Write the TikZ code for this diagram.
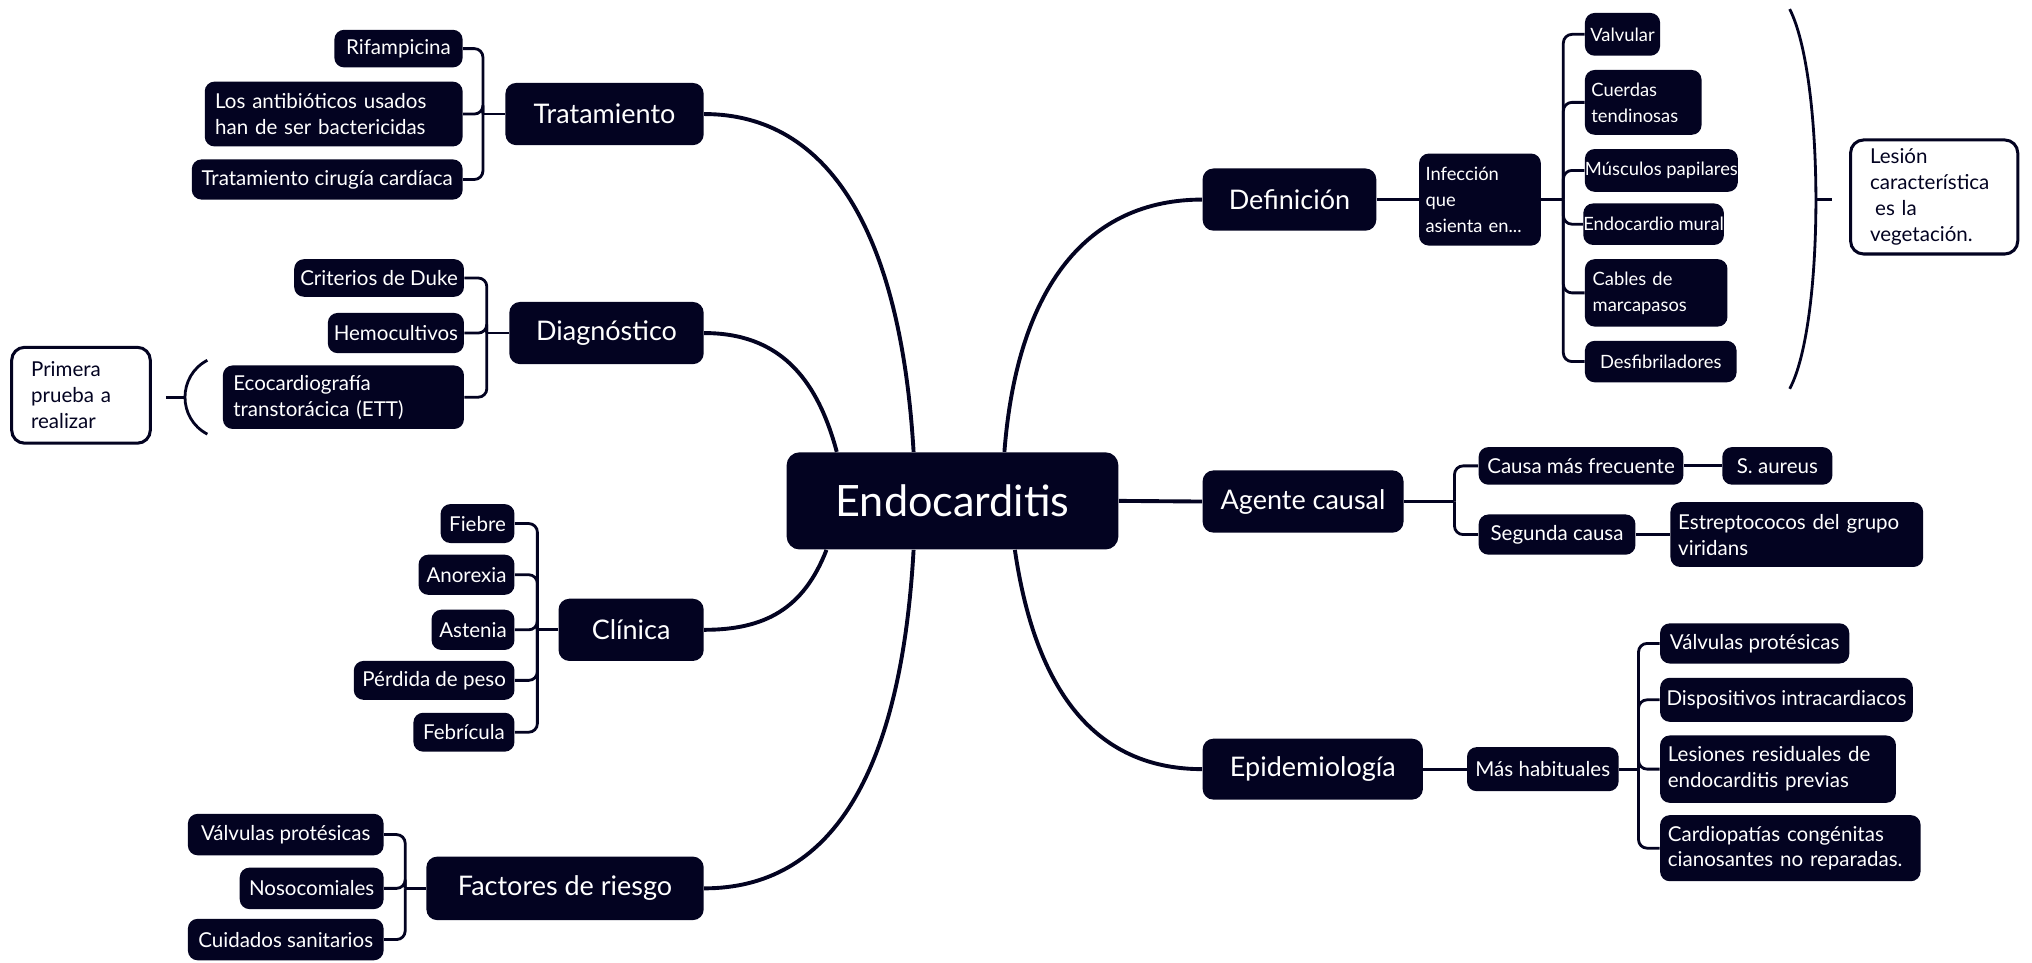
\documentclass[tikz,border=0pt]{standalone}
\usepackage{fontspec}
\setmainfont{Lato}
\usetikzlibrary{calc}
\definecolor{navy}{RGB}{3,3,33}
\begin{document}
\begin{tikzpicture}[x=0.6pt,y=-0.6pt,
  nd/.style={fill=navy, text=white, rounded corners=4.5pt, inner sep=0pt, align=center},
  leaf/.style={nd, font=\fontsize{9.5}{12}\selectfont},
  dleaf/.style={nd, font=\fontsize{8.5}{12}\selectfont},
  mainn/.style={nd, font=\fontsize{12.5}{15}\selectfont, rounded corners=5pt},
  sz/.style 2 args={minimum width=#1*0.6pt, minimum height=#2*0.6pt},
  ml/.style={align=left, text width=#1*0.6pt},
  conn/.style={draw=navy, line width=1.3pt},
  br/.style={conn, rounded corners=4pt},
  curve/.style={draw=navy, line width=1.8pt},
  wbox/.style={draw=navy, line width=1.4pt, fill=white, text=navy, rounded corners=6pt, inner sep=0pt, font=\fontsize{9.5}{12}\selectfont}
]
\useasboundingbox (0,0) rectangle (1568,743);

% central
\node[nd, sz={256}{75}, font=\fontsize{20}{24}\selectfont, rounded corners=6pt] (cen) at (735,386.5) {Endocarditis};

% main nodes
\node[mainn, sz={153}{48}] (trat) at (466.5,88) {Tratamiento};
\node[mainn, sz={150}{48}] (diag) at (468,257) {Diagnóstico};
\node[mainn, sz={112}{48}] (clin) at (487,486) {Clínica};
\node[mainn, sz={214}{49}] (fact) at (436,685.5) {Factores de riesgo};
\node[mainn, sz={134}{48}] (defi) at (995,154) {Definición};
\node[mainn, sz={155}{48}] (agen) at (1005.5,387) {Agente causal};
\node[mainn, sz={170}{47}] (epid) at (1013,593.5) {Epidemiología};

% curves from centre
\draw[curve] ($(cen.north west)!0.383!(cen.north east)$) .. controls (695,180) and (640,88) .. (trat.east);
\draw[curve] ($(cen.north west)!0.152!(cen.north east)$) .. controls (630,290) and (600,257) .. (diag.east);
\draw[curve] ($(cen.south west)!0.121!(cen.south east)$) .. controls (620,470) and (590,486) .. (clin.east);
\draw[curve] ($(cen.south west)!0.383!(cen.south east)$) .. controls (695,600) and (640,685.5) .. (fact.east);
\draw[curve] ($(cen.north west)!0.656!(cen.north east)$) .. controls (785,220) and (840,154) .. (defi.west);
\draw[curve] ($(cen.south west)!0.6875!(cen.south east)$) .. controls (800,540) and (850,593.5) .. (epid.west);
\draw[curve] (cen.east) -- (agen.west);

% Tratamiento
\node[leaf, sz={99}{29}] (rif) at (307.5,37.5) {Rifampicina};
\node[leaf, sz={199}{50}, ml=183] (anti) at (257.5,88) {Los antibióticos usados\\han de ser bactericidas};
\node[leaf, sz={209}{31}] (ciru) at (252.5,138.5) {Tratamiento cirugía cardíaca};
\coordinate (tb) at ($(trat.west)+(-17,0)$);
\draw[conn] (trat.west) -- (tb);
\draw[br] (tb) |- (rif.east);
\draw[br] (tb) |- (anti.east);
\draw[br] (tb) |- (ciru.east);

% Diagnostico
\node[leaf, sz={131}{29}] (duke) at (292.5,214.5) {Criterios de Duke};
\node[leaf, sz={105}{31}] (hemo) at (305.5,257) {Hemocultivos};
\node[leaf, sz={186}{49}, ml=170] (eco) at (265,306.5) {Ecocardiografía\\transtorácica (ETT)};
\coordinate (db) at ($(diag.west)+(-17,0)$);
\draw[conn] (diag.west) -- (db);
\draw[br] (db) |- (duke.east);
\draw[br] (db) |- (hemo.east);
\draw[br] (db) |- (eco.east);
\node[wbox, sz={107}{74}, ml=77] (prim) at (62.5,305) {Primera\\prueba a\\realizar};
\coordinate (p1) at (160,278);
\coordinate (p2) at (160,335);
\coordinate (p3) at (143,306.5);
\coordinate (p4) at (128,306.5);
\draw[conn] (p1) .. controls (137,290) and (137,323) .. (p2);
\draw[conn] (p4) -- (p3);

% Clinica
\node[leaf, sz={57}{30}] (fieb) at (368.5,404) {Fiebre};
\node[leaf, sz={74}{31}] (anor) at (360,443.5) {Anorexia};
\node[leaf, sz={64}{31}] (aste) at (365,486) {Astenia};
\node[leaf, sz={124}{30}] (perd) at (335,525) {Pérdida de peso};
\node[leaf, sz={78}{30}] (febr) at (358,565) {Febrícula};
\coordinate (cb) at ($(clin.west)+(-16,0)$);
\draw[conn] (clin.west) -- (cb);
\draw[br] (cb) |- (fieb.east);
\draw[br] (cb) |- (anor.east);
\draw[br] (cb) |- (aste.east);
\draw[br] (cb) |- (perd.east);
\draw[br] (cb) |- (febr.east);

% Factores
\node[leaf, sz={151}{32}] (fv) at (220.5,644) {Válvulas protésicas};
\node[leaf, sz={111}{32}] (fn) at (240.5,685.5) {Nosocomiales};
\node[leaf, sz={151}{32}] (fc) at (220.5,725) {Cuidados sanitarios};
\coordinate (fb) at ($(fact.west)+(-16,0)$);
\draw[conn] (fact.west) -- (fb);
\draw[br] (fb) |- (fv.east);
\draw[br] (fb) |- (fn.east);
\draw[br] (fb) |- (fc.east);

% Definicion
\node[dleaf, sz={94}{71}, ml=84] (infe) at (1142,154) {Infección\\que\\asienta en...};
\draw[conn] (defi.east) -- (infe.west);
\node[dleaf, sz={58}{33}] (valv) at (1252,26.5) {Valvular};
\node[dleaf, sz={90}{50}, ml=80] (cuer) at (1268,79) {Cuerdas\\tendinosas};
\node[dleaf, sz={118}{33}] (musc) at (1282,131.5) {Músculos papilares};
\node[dleaf, sz={106}{32}] (endo) at (1276,173) {Endocardio mural};
\node[dleaf, sz={110}{52}, ml=98] (cabl) at (1278,226) {Cables de\\marcapasos};
\node[dleaf, sz={117}{32}] (desf) at (1281.5,279) {Desfibriladores};
\coordinate (ib) at ($(infe.east)+(17,0)$);
\draw[conn] (infe.east) -- (ib);
\draw[br] (ib) |- (valv.west);
\draw[br] (ib) |- (cuer.west);
\draw[br] (ib) |- (musc.west);
\draw[br] (ib) |- (endo.west);
\draw[br] (ib) |- (cabl.west);
\draw[br] (ib) |- (desf.west);
\coordinate (q1) at (1381,7);
\coordinate (q2) at (1381,300);
\coordinate (q3) at (1401,154);
\coordinate (q4) at (1414,154);
\draw[conn] (q1) .. controls (1408,60) and (1408,250) .. (q2);
\draw[conn] (q3) -- (q4);
\node[wbox, sz={129}{88}, ml=99] (lesi) at (1492.5,152) {Lesión\\característica\\\hspace*{0.25em}es la\\vegetación.};

% Agente causal
\node[leaf, sz={158}{29}] (caus) at (1220,359.5) {Causa más frecuente};
\node[leaf, sz={121}{31}] (segu) at (1201.5,412.5) {Segunda causa};
\node[leaf, sz={85}{29}] (saur) at (1371.5,359.5) {S. aureus};
\node[leaf, sz={195}{50}, ml=183] (estr) at (1386.5,412.5) {Estreptococos del grupo\\viridans};
\coordinate (ab) at ($(agen.east)+(39,0)$);
\draw[conn] (agen.east) -- (ab);
\draw[br] (ab) |- (caus.west);
\draw[br] (ab) |- (segu.west);
\draw[conn] (caus.east) -- (saur.west);
\draw[conn] (segu.east) -- (estr.west);

% Epidemiologia
\node[leaf, sz={117}{34}] (masu) at (1190.5,593.5) {Más habituales};
\draw[conn] (epid.east) -- (masu.west);
\node[leaf, sz={146}{31}] (ev1) at (1354,496.5) {Válvulas protésicas};
\node[leaf, sz={195}{34}] (ev2) at (1378.5,540) {Dispositivos intracardiacos};
\node[leaf, sz={182}{52}, ml=170] (ev3) at (1372,593.5) {Lesiones residuales de\\endocarditis previas};
\node[leaf, sz={201}{51}, ml=189] (ev4) at (1381.5,654.5) {Cardiopatías congénitas\\cianosantes no reparadas.};
\coordinate (eb) at ($(masu.east)+(15,0)$);
\draw[conn] (masu.east) -- (eb);
\draw[br] (eb) |- (ev1.west);
\draw[br] (eb) |- (ev2.west);
\draw[br] (eb) |- (ev3.west);
\draw[br] (eb) |- (ev4.west);
\end{tikzpicture}
\end{document}
